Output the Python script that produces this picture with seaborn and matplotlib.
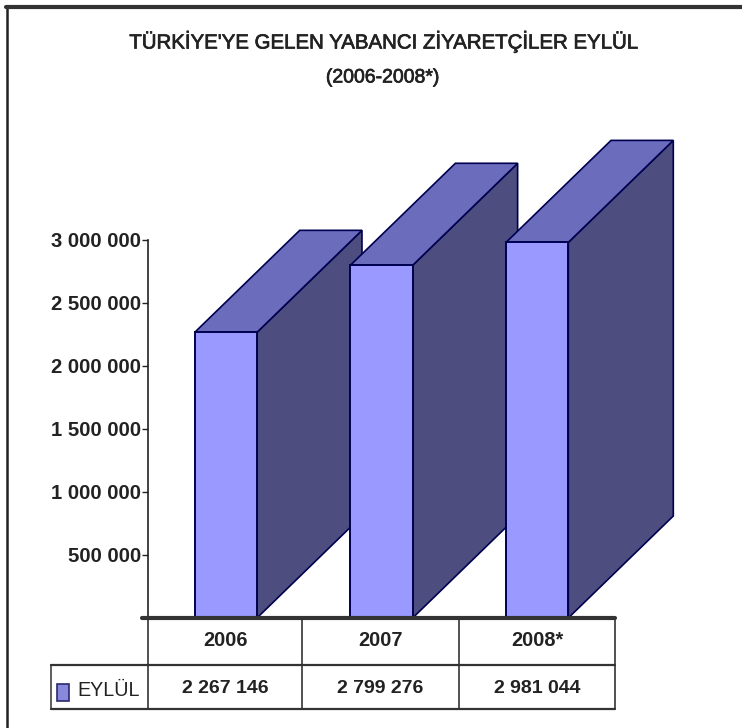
import matplotlib
matplotlib.use('Agg')
import matplotlib.pyplot as plt
import matplotlib.patheffects as pe
from matplotlib.patches import Polygon, Rectangle
import seaborn as sns
import pandas as pd

# chart values
years = ['2006', '2007', '2008*']
visitors = [2267146, 2799276, 2981044]
value_labels = ['2 267 146', '2 799 276', '2 981 044']
tick_values = [500000, 1000000, 1500000, 2000000, 2500000, 3000000]
tick_labels = ['500 000', '1 000 000', '1 500 000', '2 000 000', '2 500 000', '3 000 000']
series_name = 'EYLÜL'
title_1 = "TÜRKİYE'YE GELEN YABANCI ZİYARETÇİLER EYLÜL"
title_2 = '(2006-2008*)'

FRONT = '#9999FF'
TOP = '#6C6CBC'
SIDE = '#4D4D80'
EDGE = '#000050'
DARK = '#222222'

W, H = 742, 728
sns.set_theme(style='white')
plt.rcParams['font.family'] = ['Liberation Sans', 'DejaVu Sans']

fig = plt.figure(figsize=(W / 100, H / 100), dpi=100, facecolor='white')

# plot area in pixels: left axis at x=148, baseline y=618, 3M at y=240
left, right, base, top3m = 148, 615, 618, 240
ax = fig.add_axes([left / W, 1 - base / H, (right - left) / W, (base - top3m) / H])

df = pd.DataFrame({'year': years, 'visitors': visitors})
sns.barplot(data=df, x='year', y='visitors', color=FRONT, saturation=1, width=0.4,
            edgecolor=EDGE, linewidth=1.4, ax=ax, zorder=3)
ax.set_xlim(-0.5, 2.5)
ax.set_ylim(0, 3000000)
ax.patch.set_alpha(0)

# depth of the 3d boxes in data units
dx = 105 / ((right - left) / 3)
dy = 102 / ((base - top3m) / 3000000)

for i, bar in enumerate(ax.patches):
    x0, x1 = bar.get_x(), bar.get_x() + bar.get_width()
    h = bar.get_height()
    z = 3 + i * 2
    bar.set_zorder(z + 1)
    ax.add_patch(Polygon([(x1, 0), (x1 + dx, dy), (x1 + dx, h + dy), (x1, h)], closed=True,
                         facecolor=SIDE, edgecolor=EDGE, linewidth=1.2, clip_on=False, zorder=z))
    ax.add_patch(Polygon([(x0, h), (x0 + dx, h + dy), (x1 + dx, h + dy), (x1, h)], closed=True,
                         facecolor=TOP, edgecolor=EDGE, linewidth=1.2, clip_on=False, zorder=z))

ax.set_yticks(tick_values)
ax.set_yticklabels(tick_labels, fontsize=14.6, fontweight='bold', color=DARK)
ax.set_xticks([])
ax.set_xlabel('')
ax.set_ylabel('')
ax.tick_params(axis='y', left=True, length=4, width=1, color=DARK, pad=1)
sns.despine(ax=ax, top=True, right=True, bottom=True)
ax.spines['left'].set_color(DARK)
ax.spines['left'].set_linewidth(1.2)

# overlay in pixel coordinates for the frame, titles and data table
ov = fig.add_axes([0, 0, 1, 1], zorder=10)
ov.set_xlim(0, W)
ov.set_ylim(H, 0)
ov.axis('off')
ov.patch.set_alpha(0)

ov.plot([7, 7], [6, H], color=DARK, lw=1.8)
ov.plot([6, W], [7, 7], color='#333333', lw=3)

heavier = [pe.withStroke(linewidth=0.5, foreground=DARK)]
ov.text(383, 42, title_1, ha='center', va='center', fontsize=14.7, color=DARK, path_effects=heavier)
ov.text(383, 78, title_2, ha='center', va='center', fontsize=14, color=DARK, path_effects=heavier)

cols = [148, 302, 459, 615]
row_top, row_mid, row_bot = 618, 665, 709
for x in cols:
    ov.plot([x, x], [row_top, row_bot], color=DARK, lw=1.1)
ov.plot([142, cols[-1]], [row_top, row_top], color='#333333', lw=3)
ov.plot([51, cols[-1]], [row_mid, row_mid], color='#333333', lw=1.6)
ov.plot([51, cols[-1]], [row_bot, row_bot], color='#333333', lw=1.6)
ov.plot([51, 51], [row_mid, row_bot], color='#333333', lw=1.1)

for i in range(len(years)):
    cx = (cols[i] + cols[i + 1]) / 2
    ov.text(cx, 640, years[i], ha='center', va='center', fontsize=14.4, fontweight='bold', color=DARK)
    ov.text(cx, 688.5, value_labels[i], ha='center', va='center', fontsize=14, fontweight='bold', color=DARK)

ov.add_patch(Rectangle((57, 684), 12, 17, facecolor='#8888DD', edgecolor='#2A2A70', linewidth=1.2))
ov.text(77, 690, series_name, ha='left', va='center', fontsize=14.2, color=DARK)

fig.savefig('out.png', dpi=100)
